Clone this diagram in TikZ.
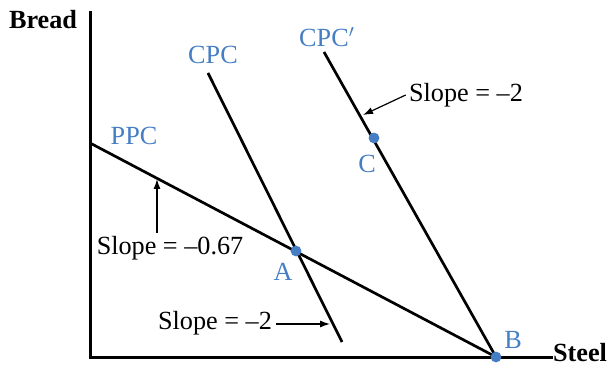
\documentclass[tikz,border=0pt]{standalone}
\usepackage{fontspec}
\setmainfont{Liberation Serif}
\usetikzlibrary{arrows.meta}
\definecolor{lblue}{RGB}{70,126,196}
\tikzset{
  axis/.style={line width=1.5pt, line cap=rect},
  curve/.style={line width=1.35pt},
  pointer/.style={line width=0.6pt, -{Latex[length=5pt,width=3.5pt]}},
  lbl/.style={font=\fontsize{13.1}{15}\selectfont, inner sep=0pt},
  blbl/.style={lbl, text=lblue},
  axlbl/.style={lbl, font=\fontsize{13.1}{15}\selectfont\bfseries},
  dot/.style={circle, fill=lblue, minimum size=5.4pt, inner sep=0pt}
}
\begin{document}
\begin{tikzpicture}[x=0.5pt,y=-0.5pt]
\useasboundingbox (0,0) rectangle (613,367);
% axes
\coordinate (O) at (90,357);
\coordinate (ytop) at (90,13);
\coordinate (xend) at (551,357);
\draw[axis] (ytop) -- (O) -- (xend);
\node[axlbl] (bread) at (43,20) {Bread};
\node[axlbl] (steel) at (580,353) {Steel};
% curves
\coordinate (ppc0) at (90,143);
\coordinate (B) at (496,357);
\coordinate (cpc0) at (208,73);
\coordinate (cpc1) at (342,342);
\coordinate (cpcp0) at (324,52);
\draw[curve] (ppc0) -- (B);
\draw[curve] (cpc0) -- (cpc1);
\draw[curve] (cpcp0) -- (B);
% points
\node[dot] (dA) at (296,251) {};
\node[dot] (dB) at (496,357) {};
\node[dot] (dC) at (374,138) {};
% labels
\node[blbl] (lcpc) at (213,55) {CPC};
\node[blbl] (lcpcp) at (327,37) {CPC$'$};
\node[blbl] (lppc) at (134,136) {PPC};
\node[blbl] (lA) at (283,272) {A};
\node[blbl] (lB) at (513,340) {B};
\node[blbl] (lC) at (367,164) {C};
% slope labels
\node[lbl] (s1) at (466,95) {Slope = –2};
\node[lbl] (s2) at (170,248) {Slope = –0.67};
\node[lbl] (s3) at (215,323) {Slope = –2};
\coordinate (t1) at (363,115);
\coordinate (t2) at (157,179);
\coordinate (t3) at (330,324);
\draw[pointer] (s1.west) ++(-3,0) -- (t1);
\draw[pointer] (157,233) -- (t2);
\draw[pointer] (s3.east) ++(4,1) -- (t3);
\end{tikzpicture}
\end{document}
